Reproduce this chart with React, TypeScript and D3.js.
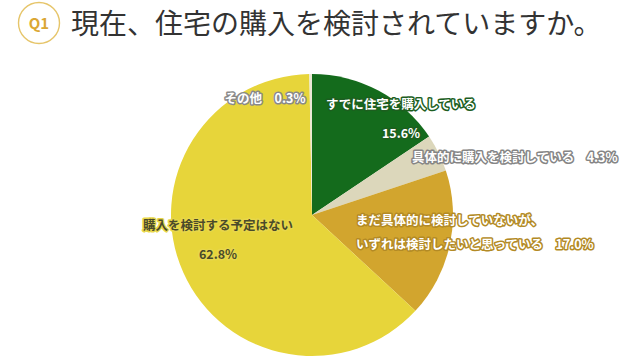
import React from "react";
import * as d3 from "d3";

const categories = [
  "すでに住宅を購入している",
  "具体的に購入を検討している",
  "まだ具体的に検討していないが、いずれは検討したいと思っている",
  "購入を検討する予定はない",
  "その他",
];
const values = [15.6, 4.3, 17.0, 62.8, 0.3];
const colors = ["#146b1c", "#dcd7bb", "#d2a52e", "#e7d53a", "#ebe8d6"];
const title = "現在、住宅の購入を検討されていますか。";

const W = 640, H = 360;
const cx = 312, cy = 215, R = 141;
const FONT = "'Noto Sans CJK JP', 'Noto Sans', sans-serif";

type Lbl = { lines: string[]; x: number; y: number[]; anchor: string; fill: string; stroke: string };

export default function App() {
  const pie = d3.pie<number>().sort(null).value((d) => d)(values);
  const arc = d3.arc<d3.PieArcDatum<number>>().innerRadius(0).outerRadius(R);

  const labels: Lbl[] = [
    { lines: ["その他　0.3%"], x: 265, y: [100], anchor: "middle", fill: "#ffffff", stroke: "#8a8a8a" },
    { lines: ["すでに住宅を購入している", "15.6%"], x: 401, y: [106, 135], anchor: "middle", fill: "#ffffff", stroke: "#1d5e1f" },
    { lines: ["具体的に購入を検討している　4.3%"], x: 412, y: [159], anchor: "start", fill: "#ffffff", stroke: "#858585" },
    { lines: ["まだ具体的に検討していないが、", "いずれは検討したいと思っている　17.0%"], x: 356, y: [222, 246], anchor: "start", fill: "#ffffff", stroke: "#b38a25" },
    { lines: ["購入を検討する予定はない", "62.8%"], x: 218, y: [227, 256], anchor: "middle", fill: "#4a4a2a", stroke: "#e8d74a" },
  ];

  return (
    <svg width={W} height={H} style={{ position: "absolute", left: 0, top: 0, background: "#ffffff" }}>
      <rect width={W} height={H} fill="#ffffff" />
      <circle cx={39} cy={23} r={20.5} fill="#ffffff" stroke="#e6c56a" strokeWidth={1.4} />
      <text x={39} y={28.5} textAnchor="middle" fontFamily={FONT} fontWeight={700} fontSize={15} fill="#dba733">Q1</text>
      <text x={71} y={34} fontFamily={FONT} fontSize={28} fill="#333333">{title}</text>
      <g transform={`translate(${cx},${cy})`}>
        {pie.map((p, i) => (
          <path key={categories[i]} d={arc(p) || ""} fill={colors[i]} />
        ))}
      </g>
      {labels.map((l, i) => (
        <g key={i}>
          {l.lines.map((t, j) => (
            <text
              key={j}
              x={l.x}
              y={l.y[j]}
              textAnchor={l.anchor}
              dominantBaseline="middle"
              fontFamily={FONT}
              fontWeight={700}
              fontSize={12.5}
              fill={l.fill}
              stroke={l.stroke}
              strokeWidth={3}
              strokeLinejoin="round"
              paintOrder="stroke"
            >
              {t}
            </text>
          ))}
        </g>
      ))}
    </svg>
  );
}
